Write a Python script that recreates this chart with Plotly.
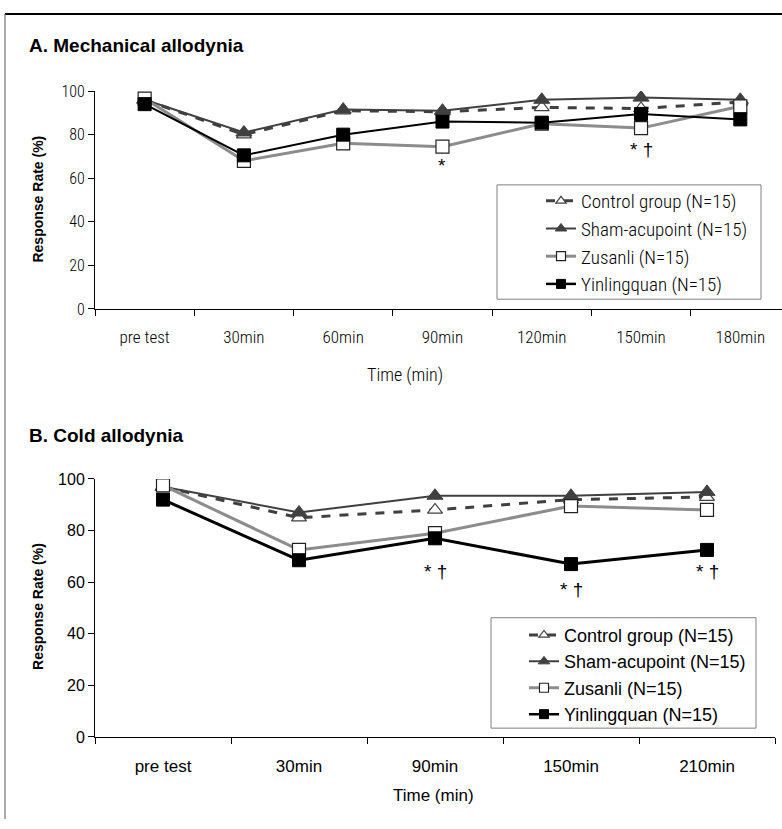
import plotly.graph_objects as go

W, H = 782, 829

# ---------------- data ----------------
mech_times = ["pre test", "30min", "60min", "90min", "120min", "150min", "180min"]
mech_control = [96, 80, 91, 90.5, 92.5, 92, 95]
mech_sham = [96, 81, 91.5, 91, 96, 97, 96]
mech_zusanli = [96.5, 68, 76, 74.5, 85, 83, 93]
mech_yinlingquan = [94, 70.5, 80, 86, 85.5, 89.5, 87]

cold_times = ["pre test", "30min", "90min", "150min", "210min"]
cold_control = [97, 85, 88, 92, 93]
cold_sham = [97, 87, 93.5, 93.5, 95]
cold_zusanli = [97.5, 72.5, 79, 89.5, 88]
cold_yinlingquan = [92, 68.5, 77, 67, 72.5]

group_names = ["Control group (N=15)", "Sham-acupoint (N=15)", "Zusanli (N=15)", "Yinlingquan (N=15)"]

mech_marks = [("*", 3, 66), ("* \u2020", 5, 73)]
cold_marks = [("* \u2020", 2, 64), ("* \u2020", 3, 57), ("* \u2020", 4, 64)]

# ---------------- styles ----------------
NARROW = "Roboto Condensed, Liberation Sans Narrow, Arial Narrow, Liberation Sans, Arial, sans-serif"
SANS = "Liberation Sans, Arial, sans-serif"
DARK = "#404040"
GREY = "#8c8c8c"
NW = 300  # light weight for the condensed font


def styles(lw_black, msize):
    return [
        dict(line=dict(color=DARK, width=3, dash="dash"),
             marker=dict(symbol="triangle-up", size=msize, color="white", line=dict(color=DARK, width=1.2))),
        dict(line=dict(color=DARK, width=2),
             marker=dict(symbol="triangle-up", size=msize + 1, color=DARK, line=dict(color=DARK, width=1))),
        dict(line=dict(color=GREY, width=3),
             marker=dict(symbol="square", size=msize, color="white", line=dict(color="#222", width=1.2))),
        dict(line=dict(color="black", width=lw_black),
             marker=dict(symbol="square", size=msize, color="black", line=dict(color="black", width=1))),
    ]


fig = go.Figure()


def add_panel(xs, series, legend, xa, ya, lw_black):
    for name, ys, st in zip(group_names, series, styles(lw_black, 13)):
        fig.add_trace(go.Scatter(x=list(range(len(xs))), y=ys, name=name, mode="lines+markers",
                                 showlegend=False, xaxis=xa, yaxis=ya, **st))
    for name, st in zip(group_names, styles(2.5, 9)):
        fig.add_trace(go.Scatter(x=[None], y=[None], name=name, mode="lines+markers",
                                 legend=legend, xaxis=xa, yaxis=ya, **st))


add_panel(mech_times, [mech_control, mech_sham, mech_zusanli, mech_yinlingquan], "legend", "x", "y", 2)
add_panel(cold_times, [cold_control, cold_sham, cold_zusanli, cold_yinlingquan], "legend2", "x2", "y2", 3)


def px_x(p):
    return p / W


def px_y(p):
    return 1 - p / H


def axis_common(size, fam, weight):
    return dict(showgrid=False, zeroline=False, showline=True, linecolor="black", linewidth=1,
                tickfont=dict(family=fam, size=size, color="black", weight=weight))


fig.update_layout(
    width=W, height=H, margin=dict(l=0, r=0, t=0, b=0),
    paper_bgcolor="white", plot_bgcolor="white",
    xaxis=dict(domain=[px_x(95), 1.0], range=[-0.5, 6.42], tickvals=list(range(len(mech_times))),
               ticktext=mech_times, ticks="", ticklabelstandoff=13,
               minor=dict(ticks="outside", tick0=-0.5, dtick=1, ticklen=6, tickcolor="black"),
               anchor="y", **axis_common(17, NARROW, NW)),
    yaxis=dict(domain=[px_y(307), px_y(84)], range=[0, 100], tickvals=[0, 20, 40, 60, 80, 100],
               ticks="outside", ticklen=6, tickcolor="black", anchor="x", **axis_common(16, NARROW, NW)),
    xaxis2=dict(domain=[px_x(95), px_x(775)], range=[-0.5, 4.5], tickvals=list(range(len(cold_times))),
                ticktext=cold_times, ticks="", ticklabelstandoff=14,
                minor=dict(ticks="outside", tick0=-0.5, dtick=1, ticklen=6, tickcolor="black"),
                anchor="y2", **axis_common(17, SANS, 400)),
    yaxis2=dict(domain=[px_y(745), px_y(481)], range=[0, 100], tickvals=[0, 20, 40, 60, 80, 100],
                ticks="outside", ticklen=6, tickcolor="black", anchor="x2", **axis_common(16, SANS, 400)),
    legend=dict(x=px_x(541), y=px_y(177), xanchor="left", yanchor="top",
                borderwidth=0, bgcolor="rgba(0,0,0,0)",
                font=dict(family=NARROW, size=19, color="black", weight=NW), tracegroupgap=0),
    legend2=dict(x=px_x(524), y=px_y(622), xanchor="left", yanchor="top",
                 borderwidth=0, bgcolor="rgba(0,0,0,0)",
                 font=dict(family=SANS, size=18, color="black", weight=400), tracegroupgap=0),
    showlegend=True,
)

ann = []
ann.append(dict(text="<b>A. Mechanical allodynia</b>", x=px_x(27), y=px_y(37), xref="paper", yref="paper",
                xanchor="left", yanchor="middle", showarrow=False, font=dict(family=SANS, size=19, color="black")))
ann.append(dict(text="<b>B. Cold allodynia</b>", x=px_x(27), y=px_y(437), xref="paper", yref="paper",
                xanchor="left", yanchor="middle", showarrow=False, font=dict(family=SANS, size=19, color="black")))
for yc in (195, 612):
    ann.append(dict(text="<b>Response Rate (%)</b>", x=px_x(38), y=px_y(yc), xref="paper", yref="paper",
                    xanchor="center", yanchor="middle", textangle=-90, showarrow=False,
                    font=dict(family=SANS, size=14, color="black")))
ann.append(dict(text="Time (min)", x=px_x(405), y=px_y(375), xref="paper", yref="paper",
                xanchor="center", yanchor="middle", showarrow=False,
                font=dict(family=NARROW, size=18, color="black", weight=NW)))
ann.append(dict(text="Time (min)", x=px_x(433), y=px_y(805), xref="paper", yref="paper",
                xanchor="center", yanchor="middle", showarrow=False,
                font=dict(family=SANS, size=17, color="black", weight=400)))
for txt, xi, yv in mech_marks:
    ann.append(dict(text=txt, x=xi, y=yv, xref="x", yref="y", showarrow=False,
                    font=dict(family=SANS, size=19, color="black")))
for txt, xi, yv in cold_marks:
    ann.append(dict(text=txt, x=xi, y=yv, xref="x2", yref="y2", showarrow=False,
                    font=dict(family=SANS, size=19, color="black")))
fig.update_layout(annotations=ann)

fig.update_layout(shapes=[
    # outer frame (top and left edges visible)
    dict(type="line", xref="paper", yref="paper", x0=px_x(5), x1=1.0, y0=px_y(5), y1=px_y(5),
         line=dict(color="black", width=2)),
    dict(type="line", xref="paper", yref="paper", x0=px_x(5), x1=px_x(5), y0=0, y1=px_y(5),
         line=dict(color="#555", width=1)),
    # legend boxes
    dict(type="rect", xref="paper", yref="paper", x0=px_x(497), x1=px_x(761), y0=px_y(297), y1=px_y(180),
         line=dict(color="#808080", width=1), fillcolor="white", layer="above"),
    dict(type="rect", xref="paper", yref="paper", x0=px_x(491), x1=px_x(756), y0=px_y(736), y1=px_y(623),
         line=dict(color="#808080", width=1), fillcolor="white", layer="above"),
])

fig.write_html("out.html", config={"displayModeBar": False},
               post_script="document.body.style.margin='0';document.body.style.overflow='hidden';")
